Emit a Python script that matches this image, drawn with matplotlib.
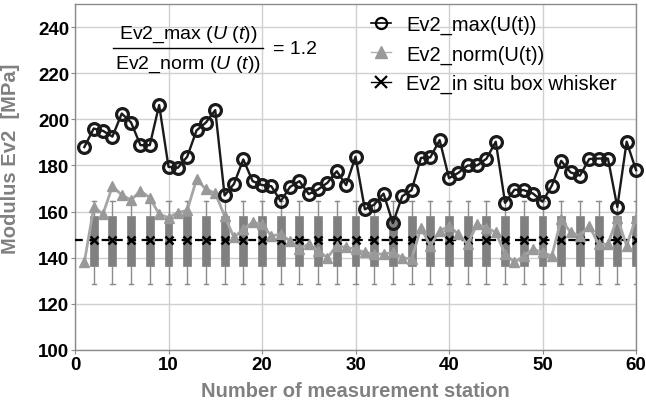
import matplotlib
matplotlib.use('Agg')
import matplotlib.pyplot as plt
from matplotlib.lines import Line2D

plt.rcParams['font.family'] = ['Liberation Sans', 'DejaVu Sans']
plt.rcParams['mathtext.fontset'] = 'custom'
plt.rcParams['mathtext.rm'] = 'Liberation Sans'
plt.rcParams['mathtext.it'] = 'Liberation Sans:italic'
plt.rcParams['mathtext.bf'] = 'Liberation Sans:bold'

# ---------------- data ----------------
stations = list(range(1, 61))
ev2_max = [188, 196, 195, 192.5, 202.5, 198.6, 188.8, 188.8, 206.2, 179.4,
           179, 183.8, 195.2, 198.6, 204, 167, 172, 182.6, 173.2, 171.5,
           171, 164.5, 170.7, 173.2, 167.6, 169.6, 172.5, 177.5, 171.5, 183.8,
           161, 163, 167.8, 155, 166.7, 169.3, 183.3, 183.5, 191, 174.5,
           176.8, 180, 180, 182.9, 190.3, 163.8, 169.5, 169.3, 167.8, 164.3,
           171.3, 182, 177, 175.6, 182.8, 183, 183, 162, 190.3, 178]
ev2_norm = [138, 161.8, 159, 171, 167.2, 165, 169, 166, 158.9, 157.4,
            159.6, 160.5, 174, 169.7, 168, 158.1, 148.8, 152.4, 155.3, 154.5,
            149.5, 150.2, 147.3, 144, 145.9, 143, 140.1, 145.2, 144.5, 143.7,
            142.3, 141.6, 141.6, 142.3, 140.1, 139.4, 153, 145.2, 151.6, 153.8,
            150.2, 145.9, 154.5, 153.1, 151, 141.6, 138, 140.8, 143.7, 142.3,
            140.8, 156.7, 151, 149.5, 153.8, 145.9, 145.9, 157.4, 145.2, 157.4]

box_stations = [2, 4, 6, 8, 10, 12, 14, 16, 18, 20, 22, 24, 26, 28, 30,
                32, 34, 36, 38, 40, 42, 44, 46, 48, 50, 52, 54, 56, 58, 60]
box_whislo = 128.5
box_q1 = 136.5
box_med = 147.5
box_q3 = 158.0
box_whishi = 164.4

x_ticks = [0, 10, 20, 30, 40, 50, 60]
y_ticks = [100, 120, 140, 160, 180, 200, 220, 240]

label_max = 'Ev2_max(U(t))'
label_norm = 'Ev2_norm(U(t))'
label_box = 'Ev2_in situ box whisker'
eq_num = r'Ev2_max$\ (U\ (t))$'
eq_den = r'Ev2_norm$\ (U\ (t))$'
eq_rhs = '= 1.2'

# ---------------- figure ----------------
fig = plt.figure(figsize=(6.46, 4.10), dpi=100)
ax = fig.add_axes([75/646, 1-351/410, (636-75)/646, (351-5)/410])

ax.set_xlim(0, 60)
ax.set_ylim(100, 250)
ax.set_xticks(x_ticks)
ax.set_yticks(y_ticks)
ax.grid(True, color='#d0d0d0', linewidth=1.0, zorder=0)
ax.set_axisbelow(True)
for s in ax.spines.values():
    s.set_color('#8a8a8a')
    s.set_linewidth(1.0)
ax.tick_params(axis='both', length=3, color='#8a8a8a', labelsize=13.5, pad=1)
for lab in ax.get_xticklabels() + ax.get_yticklabels():
    lab.set_fontweight('bold')

# box whiskers
stats = [dict(med=box_med, q1=box_q1, q3=box_q3, whislo=box_whislo,
              whishi=box_whishi, fliers=[]) for _ in box_stations]
ax.bxp(stats, positions=box_stations, widths=0.85, patch_artist=True,
       showfliers=False, manage_ticks=False, capwidths=0.45,
       boxprops=dict(facecolor='#808080', edgecolor='#808080', linewidth=0.5),
       whiskerprops=dict(color='#8c8c8c', linewidth=1.0),
       capprops=dict(color='#8c8c8c', linewidth=1.0),
       medianprops=dict(linewidth=0))
for p in ax.patches:
    p.set_zorder(2)

# dashed median line + x markers
ax.axhline(box_med, color='black', linestyle=(0, (3.5, 2.5)), linewidth=1.6, zorder=3)
ax.plot(box_stations, [box_med] * len(box_stations), linestyle='none',
        marker='x', color='black', markersize=6, markeredgewidth=1.8, zorder=4)

# norm series
ax.plot(stations, ev2_norm, color='#a6a6a6', linewidth=2.0, marker='^',
        markersize=6.5, markerfacecolor='#999999', markeredgecolor='#999999',
        zorder=5)

# max series
ax.plot(stations, ev2_max, color='#1a1a1a', linewidth=1.7, marker='o',
        markersize=8.5, markerfacecolor='none', markeredgecolor='#1a1a1a',
        markeredgewidth=2.3, zorder=6, clip_on=False)

ax.set_xlabel('Number of measurement station', fontsize=14.5,
              fontweight='bold', color='#808080', labelpad=6)
ax.set_ylabel('Modulus Ev2  [MPa]', fontsize=14.5, fontweight='bold',
              color='#808080')
ax.yaxis.set_label_coords(-55/561, 0.555)

# legend
handles = [
    Line2D([], [], color='black', linewidth=1.2, marker='o', markersize=8,
           markerfacecolor='none', markeredgewidth=1.6),
    Line2D([], [], color='#b0b0b0', linewidth=1.0, marker='^', markersize=8,
           markerfacecolor='#999999', markeredgecolor='#999999'),
    Line2D([], [], color='black', linewidth=1.0, marker='x', markersize=9,
           markeredgewidth=1.6),
]
fig.legend(handles, [label_max, label_norm, label_box], loc='upper left',
           bbox_to_anchor=(371/646, 1-16/410), frameon=False, fontsize=14.5,
           handlelength=1.0, handletextpad=0.75, labelspacing=0.5,
           borderaxespad=0, borderpad=0)

# equation (fraction drawn as numerator / bar / denominator)
fig.text(188/646, 1-35/410, eq_num, fontsize=14, ha='center', va='center')
fig.text(188/646, 1-65/410, eq_den, fontsize=14, ha='center', va='center')
fig.add_artist(Line2D([113/646, 263/646], [1-49/410, 1-49/410],
                      transform=fig.transFigure, color='black', linewidth=1.0))
fig.text(273/646, 1-50/410, eq_rhs, fontsize=14, ha='left', va='center')

fig.savefig('out.png', dpi=100)
